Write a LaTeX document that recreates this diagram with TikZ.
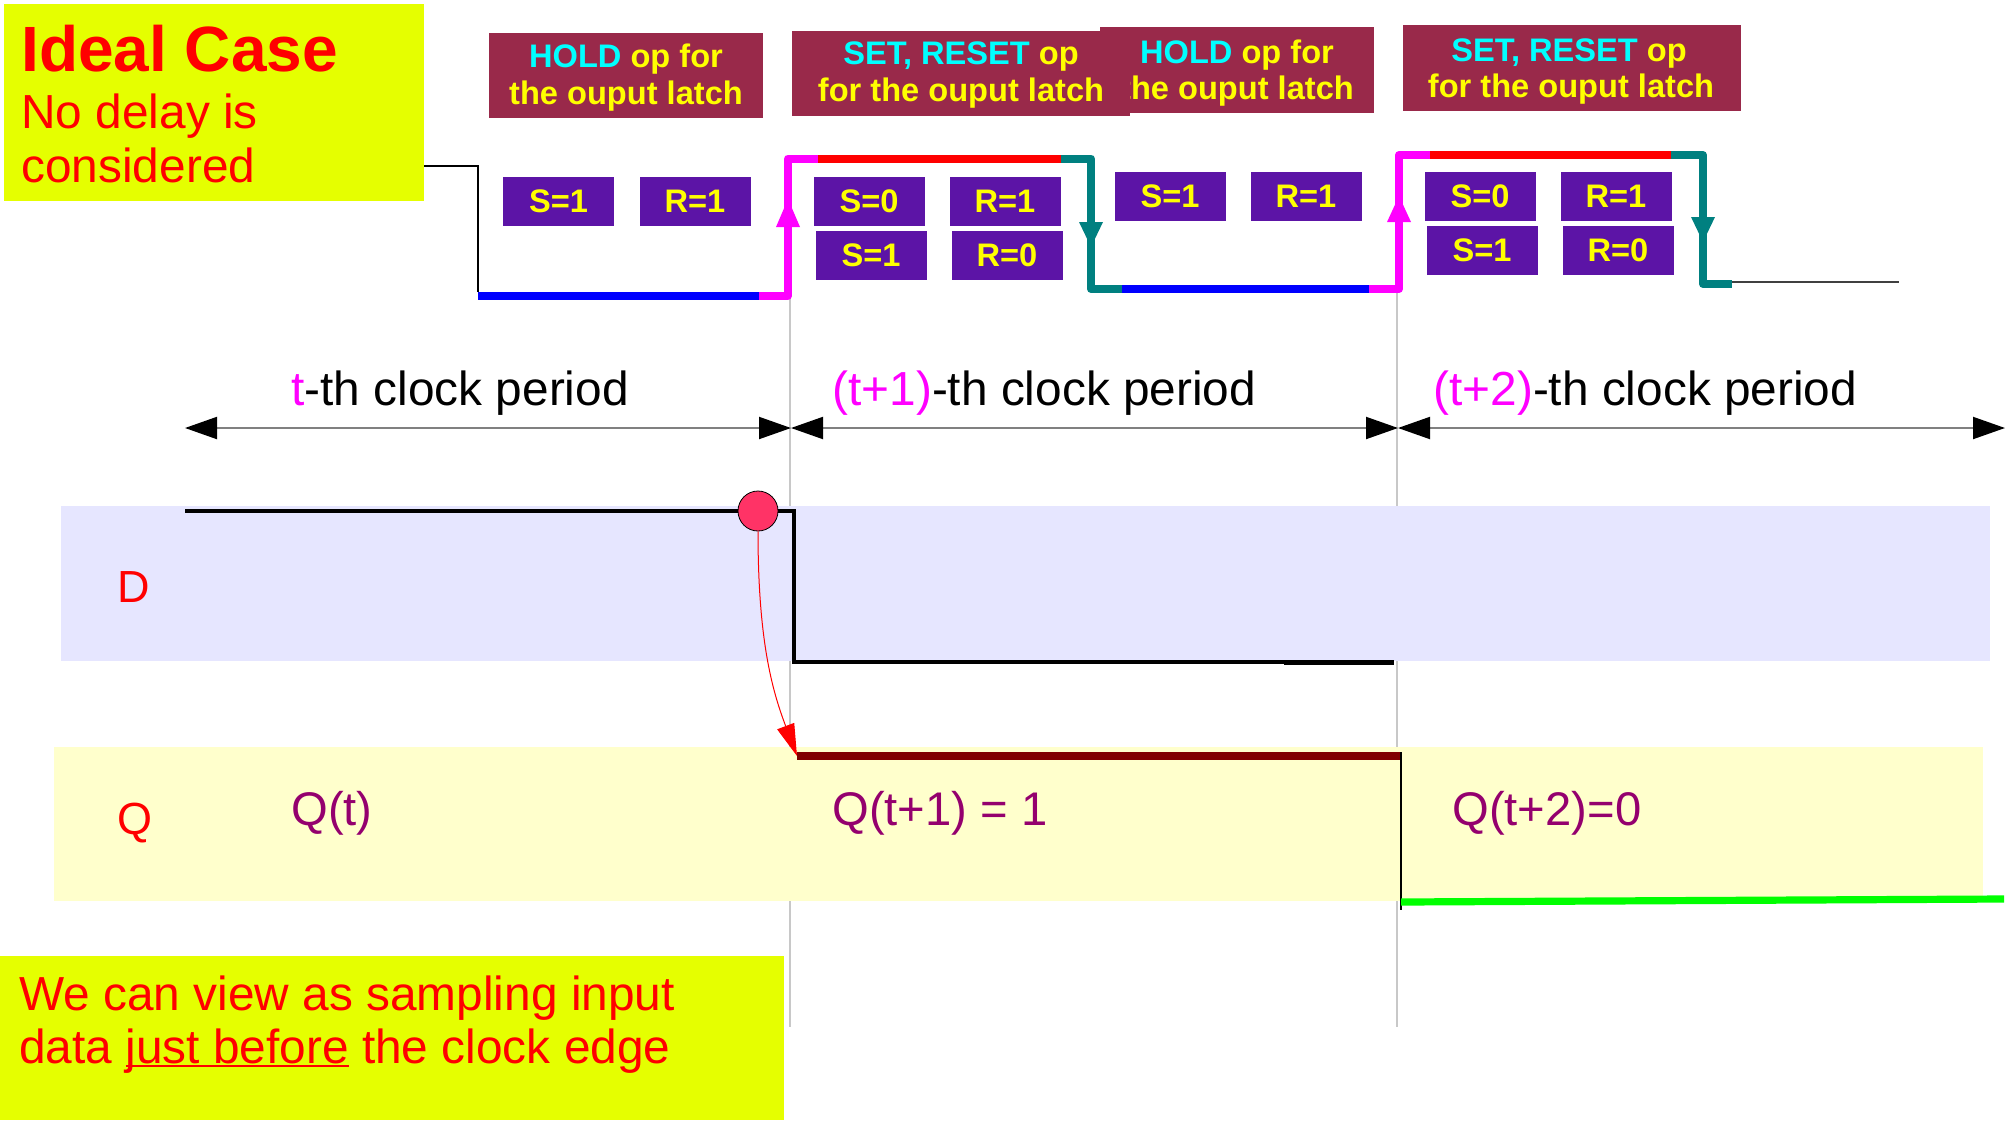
\documentclass[tikz,border=0pt]{standalone}
\usepackage{fontspec}
\setmainfont{Liberation Sans}
\usetikzlibrary{arrows.meta}
\newlength\myulw
\newcommand\myuline[1]{\settowidth{\myulw}{#1}\rlap{\rule[-2.2pt]{\myulw}{1.3pt}}#1}
\definecolor{ybox}{RGB}{229,255,0}
\definecolor{maroonbox}{RGB}{153,41,74}
\definecolor{srpurple}{RGB}{92,20,166}
\definecolor{dband}{RGB}{230,230,255}
\definecolor{qband}{RGB}{255,255,204}
\definecolor{qtext}{RGB}{148,0,110}
\definecolor{dotred}{RGB}{255,51,102}
\definecolor{qline}{RGB}{128,0,0}
\definecolor{tealc}{RGB}{0,128,128}
\definecolor{vgray}{RGB}{200,200,200}
\definecolor{cyanc}{RGB}{0,255,255}
\definecolor{magc}{RGB}{255,0,255}
\definecolor{yelc}{RGB}{255,255,0}
\definecolor{redc}{RGB}{255,0,0}
\definecolor{bluec}{RGB}{0,0,255}
\definecolor{greenc}{RGB}{0,255,0}
\tikzset{
  txt/.style={inner sep=0pt, anchor=base west},
  ctxt/.style={inner sep=0pt, anchor=base},
  reg/.style={font=\fontsize{23.9pt}{28pt}\selectfont},
  lbl/.style={font=\fontsize{22.5pt}{26pt}\selectfont, text=redc},
  qlbl/.style={font=\fontsize{23.6pt}{28pt}\selectfont, text=qtext},
  opfont/.style={font=\fontsize{16.3pt}{19pt}\selectfont\bfseries, text=yelc},
  srnode/.style={fill=srpurple, text=yelc, inner sep=0pt, minimum width=55.5pt,
    minimum height=24.5pt, font=\fontsize{16.3pt}{19pt}\selectfont\bfseries},
  wave/.style={line width=4pt},
  period/.style={draw=gray, line width=1pt,
    {Triangle[length=16pt,width=11pt,color=black]}-{Triangle[length=16pt,width=11pt,color=black]}},
}
\begin{document}
\begin{tikzpicture}[x=0.5pt,y=-0.5pt]
\useasboundingbox (0,0) rectangle (2007,1120);

% gray clock-edge guides (behind bands)
\draw[vgray, line width=0.6pt] (790,297) -- (790,1027);
\draw[vgray, line width=0.6pt] (1397,293) -- (1397,1027);

% bands
\fill[dband] (61,506) rectangle (1990,661);
\fill[qband] (54,747) rectangle (1983,901);

% Ideal case box
\fill[ybox] (4,4) rectangle (424,201);
\node[txt, font=\fontsize{32pt}{36pt}\selectfont\bfseries, text=redc] (title) at (21,71) {Ideal Case};
\node[txt, reg, text=redc] (nd1) at (21,128) {No delay is};
\node[txt, reg, text=redc] (nd2) at (21,182) {considered};

% operation boxes
\fill[maroonbox] (489,33) rectangle (763,118);
\node[ctxt, opfont] (op1a) at (626,67) {\textcolor{cyanc}{HOLD} op for};
\node[ctxt, opfont] (op1b) at (626,104) {the ouput latch};
\fill[maroonbox] (1100,27) rectangle (1374,113);
\node[ctxt, opfont] (op3a) at (1237,63) {\textcolor{cyanc}{HOLD} op for};
\node[ctxt, opfont] (op3b) at (1237,99) {the ouput latch};
\fill[maroonbox] (792,31) rectangle (1130,116);
\node[ctxt, opfont] (op2a) at (961,64) {\textcolor{cyanc}{SET, RESET} op};
\node[ctxt, opfont] (op2b) at (961,101) {for the ouput latch};
\fill[maroonbox] (1403,25) rectangle (1741,111);
\node[ctxt, opfont] (op4a) at (1569,61) {\textcolor{cyanc}{SET, RESET} op};
\node[ctxt, opfont] (op4b) at (1571,97) {for the ouput latch};

% S/R boxes
\node[srnode] (s1a) at (558.5,201.5) {S=1};
\node[srnode] (r1a) at (695,201.5) {R=1};
\node[srnode] (s0b) at (869,201.5) {S=0};
\node[srnode] (r1b) at (1005,201.5) {R=1};
\node[srnode] (s1b) at (871,255.5) {S=1};
\node[srnode] (r0b) at (1007,255.5) {R=0};
\node[srnode] (s1c) at (1170,196.5) {S=1};
\node[srnode] (r1c) at (1306,196.5) {R=1};
\node[srnode] (s0d) at (1480,196.5) {S=0};
\node[srnode] (r1d) at (1616,196.5) {R=1};
\node[srnode] (s1d) at (1482,250.5) {S=1};
\node[srnode] (r0d) at (1618,250.5) {R=0};

% clock waveform
\draw[black, line width=0.8pt] (424,166) -- (478,166) -- (478,292);
\draw[bluec, wave] (478,295.5) -- (759,295.5);
\draw[magc, wave, line join=round] (759,295.5) -- (788,295.5) -- (788,158.5) -- (818,158.5);
\draw[redc, wave] (818,158.5) -- (1061,158.5);
\draw[tealc, wave, line join=round] (1061,158.5) -- (1091,158.5) -- (1091,289) -- (1122,289);
\draw[bluec, wave] (1122,289) -- (1369,289);
\draw[magc, wave, line join=round] (1369,289) -- (1399,289) -- (1399,155) -- (1430,155);
\draw[redc, wave] (1430,155) -- (1671,155);
\draw[tealc, wave, line join=round] (1671,155) -- (1703,155) -- (1703,284) -- (1732,284);
\draw[darkgray, line width=0.8pt] (1732,282) -- (1899,282);
\fill[magc] (776,227) -- (788,199) -- (800,227) -- cycle;
\fill[tealc] (1079,222) -- (1091,247) -- (1103,222) -- cycle;
\fill[magc] (1387,222) -- (1399,196) -- (1411,222) -- cycle;
\fill[tealc] (1691,217) -- (1703,242) -- (1715,217) -- cycle;

% clock periods
\coordinate (e0) at (185,428);
\coordinate (e1) at (791,428);
\coordinate (e2) at (1398,428);
\coordinate (e3) at (2005,428);
\draw[period] (e0) -- (e1);
\draw[period] (e1) -- (e2);
\draw[period] (e2) -- (e3);
\node[txt, reg] (cp1) at (291,405) {\textcolor{magc}{t}-th clock period};
\node[txt, reg] (cp2) at (832,405) {\textcolor{magc}{(t+1)}-th clock period};
\node[txt, reg] (cp3) at (1433,405) {\textcolor{magc}{(t+2)}-th clock period};

% D signal
\node[txt, lbl] (dl) at (117,602) {D};
\draw[black, line width=1.75pt] (185,511) -- (794,511) -- (794,662) -- (1394,662);
\draw[black, line width=2.5pt] (1284,662) -- (1394,662);
\node[circle, draw=black, line width=0.4pt, fill=dotred, minimum size=20pt, inner sep=0pt] (dot) at (758,511) {};

% Q signal
\node[txt, lbl] (ql) at (117,834) {Q};
\node[txt, qlbl] (q0) at (291,825) {Q(t)};
\node[txt, qlbl] (q1) at (832,825) {Q(t+1) = 1};
\node[txt, qlbl] (q2) at (1452,825) {Q(t+2)=0};
\coordinate (qs) at (797,756);
\coordinate (qe) at (1401,756);
\draw[qline, wave] (qs) -- (qe);
\draw[black, line width=0.6pt] (1401,752) -- (1401,910);
\draw[greenc, line width=3.6pt] (1401,902) -- (2004,899);
\draw[redc, line width=0.5pt, -{Triangle[length=16pt,width=9pt]}] (dot.south) .. controls (758,640) and (772,690) .. (qs);

% bottom note
\fill[ybox] (0,956) rectangle (784,1120);
\node[txt, reg, text=redc] (n1) at (19,1010) {We can view as sampling input};
\node[txt, reg, text=redc] (n2) at (19,1063) {data \myuline{just before} the clock edge};
\end{tikzpicture}
\end{document}
